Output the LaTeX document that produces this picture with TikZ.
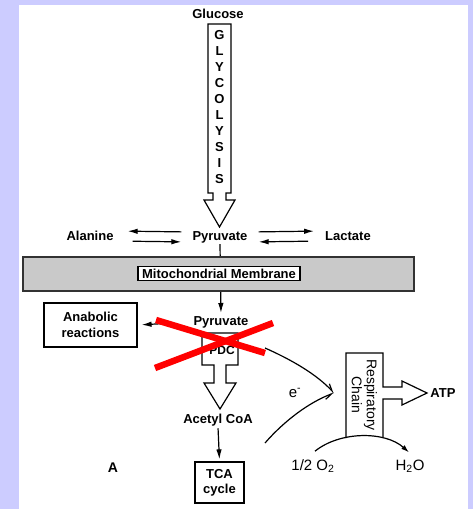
\documentclass[tikz,border=0pt]{standalone}
\usepackage{fontspec}
\setmainfont{Liberation Sans}
\usetikzlibrary{arrows.meta}
\definecolor{frame}{RGB}{204,204,255}
\definecolor{membrane}{RGB}{201,201,201}
\definecolor{membraneedge}{RGB}{50,50,50}
\begin{document}
\begin{tikzpicture}[x=1pt,y=-1pt,
  lbl/.style={font=\bfseries\fontsize{13}{16}\selectfont, inner sep=1pt},
  plain lbl/.style={font=\fontsize{15}{16}\selectfont, inner sep=1pt},
  flow/.style={line width=1.2pt},
  tip/.style={-{Latex[length=10pt,width=5.5pt]}},
  boxed/.style={draw, line width=1.2pt, fill=white},
  cross/.style={red, line width=6.5pt}
]
\useasboundingbox (0,0) rectangle (473,509);
\fill[frame] (0,0) rectangle (473,509);
\fill[white] (19,5) rectangle (468,509);

% glycolysis shaft and head
\node[lbl] (glc) at (218,14) {Glucose};
\draw[flow] (208,24) -- (231,24) -- (231,193) -- (226,193) -- (226,200) -- (235,200)
  -- (219.5,227) -- (204,200) -- (213,200) -- (213,193) -- (208,193) -- cycle;
\foreach \l [count=\i from 0] in {G,L,Y,C,O,L,Y,S,I,S}
  \node[lbl] (gly\i) at (219.5,35.5+15.9*\i) {\l};

% cytosolic pyruvate and its exchanges
\node[lbl] (pyr1) at (220,237) {Pyruvate};
\node[lbl] (ala) at (90,236) {Alanine};
\node[lbl] (lac) at (348,236) {Lactate};
\draw[flow,tip,shorten <=10pt,shorten >=13pt] ([yshift=5pt]pyr1.west) -- ([yshift=5pt]ala.east);
\draw[flow,tip,shorten <=18pt,shorten >=10pt] ([yshift=-5pt]ala.east) -- ([yshift=-5pt]pyr1.west);
\draw[flow,tip,shorten <=10pt,shorten >=10pt] ([yshift=5pt]pyr1.east) -- ([yshift=5pt]lac.west);
\draw[flow,tip,shorten <=16pt,shorten >=10pt] ([yshift=-5pt]lac.west) -- ([yshift=-5pt]pyr1.east);

% mitochondrial pyruvate
\node[lbl] (pyr2) at (221,322) {Pyruvate};
\draw[flow,tip,shorten >=2pt] (pyr1.south) -- (pyr2.north);

% membrane band
\fill[membrane] (23,257) rectangle (414,291);
\draw[membraneedge, line width=1.8pt] (23,257) rectangle (414,291);
\node[boxed, lbl, inner xsep=4pt, inner ysep=2.5pt] (mem) at (219,273.5) {Mitochondrial Membrane};

% anabolic branch
\node[boxed, lbl, align=center, minimum width=93pt, minimum height=44pt] (ana) at (90.5,325) {Anabolic\\reactions};
\draw[flow,tip,shorten <=27pt,shorten >=4pt] (pyr2.west) -- (ana.east);

% pyruvate dehydrogenase complex
\draw[flow] (202,333) -- (238,333) -- (238,365) -- (226,365) -- (226,383) -- (236,383)
  -- (220,409) -- (204,383) -- (214,383) -- (214,365) -- (202,365) -- cycle;
\node[font=\bfseries\fontsize{12}{14}\selectfont] (pdc) at (222,350) {PDC};

% acetyl CoA into the TCA cycle
\node[lbl] (acoa) at (218,420) {Acetyl CoA};
\node[boxed, lbl, align=center, font=\bfseries\fontsize{13}{15}\selectfont, minimum width=49pt, minimum height=41pt] (tca) at (219.5,482.5) {TCA\\cycle};
\draw[flow,tip,shorten <=1pt,shorten >=2pt] (acoa.south) -- (tca.north);

\node[font=\bfseries\fontsize{14}{16}\selectfont] (panel) at (113,468) {A};

% electron flow to the respiratory chain
\coordinate (eup) at (265,348);
\coordinate (elow) at (265,443);
\coordinate (etip) at (334,393);
\draw[flow,-{Straight Barb[left,length=7pt,width=6pt]}] (eup) .. controls (292,360) and (316,374) .. (etip);
\draw[flow,-{Straight Barb[right,length=7pt,width=6pt]}] (elow) .. controls (285,420) and (310,402) .. (etip);
\node[plain lbl] (elec) at (295,393) {e\textsuperscript{-}};

% respiratory chain with ATP outlet
\draw[flow] (346,438) -- (346,353) -- (383,353) -- (383,387) -- (402,387) -- (402,381)
  -- (427,393) -- (402,405) -- (402,399) -- (383,399) -- (383,437);
\node[rotate=-90, align=center, font=\fontsize{14}{15}\selectfont] (rc) at (364.5,395) {Respiratory\\Chain};
\node[lbl] (atp) at (443,393) {ATP};

% oxygen reduced to water
\node[plain lbl] (o2) at (313,466) {1/2 O\textsubscript{2}};
\node[plain lbl] (h2o) at (410,466) {H\textsubscript{2}O};
\draw[flow,-{Latex[length=8pt,width=5pt]}] (o2.north) ++(2,-7) .. controls (340,431) and (385,431) .. ([xshift=-1pt,yshift=6pt]h2o.north);

% crossed-out step
\draw[cross] (155,368) -- (273,323);
\draw[cross] (156,320) -- (265,353);
\end{tikzpicture}
\end{document}
